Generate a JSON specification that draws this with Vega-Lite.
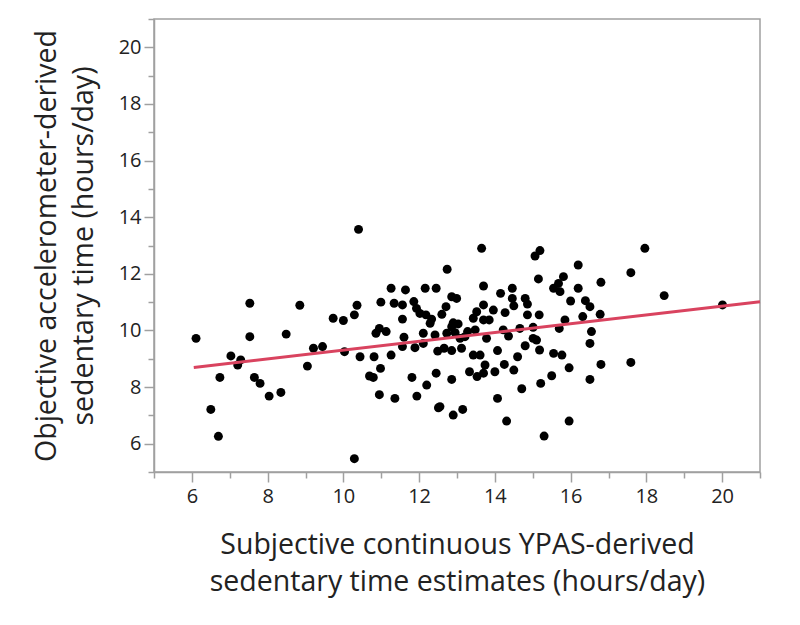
{
  "$schema": "https://vega.github.io/schema/vega-lite/v6.json",
  "autosize": {"type": "none"},
  "width": 606,
  "height": 453,
  "padding": {"left": 154, "top": 19, "right": 40, "bottom": 153},
  "config": {"view": {"stroke": "#a0a0a0", "strokeWidth": 1.5}, "font": "Open Sans"},
  "resolve": {"axis": {"x": "independent", "y": "independent"}},
  "datasets": {
    "pts": [
      {"x": 6.11, "y": 9.72}, {"x": 6.50, "y": 7.21}, {"x": 6.70, "y": 6.26}, {"x": 6.74, "y": 8.34},
      {"x": 7.03, "y": 9.10}, {"x": 7.21, "y": 8.78}, {"x": 7.29, "y": 8.96}, {"x": 7.53, "y": 10.96},
      {"x": 7.53, "y": 9.78}, {"x": 7.65, "y": 8.34}, {"x": 7.80, "y": 8.13}, {"x": 8.04, "y": 7.68},
      {"x": 8.35, "y": 7.81}, {"x": 8.49, "y": 9.87}, {"x": 8.85, "y": 10.89}, {"x": 9.05, "y": 8.74},
      {"x": 9.21, "y": 9.37}, {"x": 9.45, "y": 9.43}, {"x": 9.73, "y": 10.43}, {"x": 10.00, "y": 10.35},
      {"x": 10.03, "y": 9.25}, {"x": 10.29, "y": 10.55}, {"x": 10.36, "y": 10.89}, {"x": 10.40, "y": 13.57},
      {"x": 10.29, "y": 5.47}, {"x": 10.44, "y": 9.07}, {"x": 10.69, "y": 8.39}, {"x": 10.79, "y": 8.34},
      {"x": 10.81, "y": 9.07}, {"x": 10.98, "y": 8.66}, {"x": 10.95, "y": 7.73}, {"x": 11.36, "y": 7.60},
      {"x": 11.26, "y": 9.13}, {"x": 10.86, "y": 9.90}, {"x": 10.95, "y": 10.07}, {"x": 11.13, "y": 9.96},
      {"x": 10.99, "y": 11.00}, {"x": 11.26, "y": 11.49}, {"x": 11.64, "y": 11.43}, {"x": 11.34, "y": 10.96},
      {"x": 11.56, "y": 10.90}, {"x": 11.56, "y": 10.40}, {"x": 11.60, "y": 9.76}, {"x": 11.56, "y": 9.43},
      {"x": 11.81, "y": 8.34}, {"x": 11.94, "y": 7.68}, {"x": 11.86, "y": 11.02}, {"x": 11.93, "y": 10.78},
      {"x": 12.02, "y": 10.60}, {"x": 12.16, "y": 11.49}, {"x": 12.45, "y": 11.49}, {"x": 12.18, "y": 10.55},
      {"x": 12.33, "y": 10.40}, {"x": 12.29, "y": 10.25}, {"x": 12.71, "y": 10.84}, {"x": 12.60, "y": 10.57},
      {"x": 12.86, "y": 11.19}, {"x": 12.99, "y": 11.13}, {"x": 12.90, "y": 10.27}, {"x": 13.03, "y": 10.23},
      {"x": 12.11, "y": 9.90}, {"x": 12.42, "y": 9.84}, {"x": 11.89, "y": 9.39}, {"x": 12.11, "y": 9.54},
      {"x": 12.49, "y": 9.27}, {"x": 12.66, "y": 9.37}, {"x": 12.86, "y": 9.29}, {"x": 12.73, "y": 9.90},
      {"x": 13.08, "y": 9.72}, {"x": 13.12, "y": 9.37}, {"x": 13.28, "y": 9.96}, {"x": 12.45, "y": 8.49},
      {"x": 12.20, "y": 8.07}, {"x": 12.86, "y": 8.27}, {"x": 12.51, "y": 7.27}, {"x": 12.90, "y": 7.01},
      {"x": 13.15, "y": 7.21}, {"x": 13.33, "y": 8.54}, {"x": 13.65, "y": 12.90}, {"x": 15.06, "y": 12.63},
      {"x": 15.19, "y": 12.82}, {"x": 17.96, "y": 12.90}, {"x": 12.74, "y": 12.16}, {"x": 16.20, "y": 12.31},
      {"x": 17.59, "y": 12.04}, {"x": 15.15, "y": 11.82}, {"x": 15.81, "y": 11.90}, {"x": 15.68, "y": 11.66},
      {"x": 15.55, "y": 11.49}, {"x": 15.72, "y": 11.37}, {"x": 16.80, "y": 11.70}, {"x": 16.20, "y": 11.49},
      {"x": 13.70, "y": 11.57}, {"x": 14.15, "y": 11.31}, {"x": 14.46, "y": 11.49}, {"x": 14.46, "y": 11.13},
      {"x": 14.80, "y": 11.13}, {"x": 14.86, "y": 10.93}, {"x": 18.47, "y": 11.23}, {"x": 16.00, "y": 11.04},
      {"x": 16.39, "y": 11.05}, {"x": 16.51, "y": 10.84}, {"x": 20.01, "y": 10.90}, {"x": 13.70, "y": 10.90},
      {"x": 13.52, "y": 10.66}, {"x": 13.43, "y": 10.43}, {"x": 13.96, "y": 10.72}, {"x": 13.85, "y": 10.37},
      {"x": 13.70, "y": 10.37}, {"x": 14.27, "y": 10.63}, {"x": 14.86, "y": 10.55}, {"x": 15.17, "y": 10.55},
      {"x": 12.86, "y": 10.13}, {"x": 15.85, "y": 10.37}, {"x": 16.32, "y": 10.49}, {"x": 16.78, "y": 10.57},
      {"x": 13.21, "y": 9.78}, {"x": 13.48, "y": 10.02}, {"x": 14.22, "y": 10.02}, {"x": 14.36, "y": 9.80},
      {"x": 14.66, "y": 10.07}, {"x": 15.01, "y": 10.11}, {"x": 13.78, "y": 9.72}, {"x": 15.01, "y": 9.72},
      {"x": 15.10, "y": 9.66}, {"x": 15.70, "y": 10.07}, {"x": 16.55, "y": 9.96}, {"x": 16.51, "y": 9.54},
      {"x": 13.43, "y": 9.13}, {"x": 13.61, "y": 9.13}, {"x": 14.07, "y": 9.29}, {"x": 14.80, "y": 9.46},
      {"x": 15.18, "y": 9.31}, {"x": 14.60, "y": 9.07}, {"x": 15.55, "y": 9.19}, {"x": 15.77, "y": 9.13},
      {"x": 13.74, "y": 8.78}, {"x": 13.70, "y": 8.49}, {"x": 13.53, "y": 8.37}, {"x": 14.00, "y": 8.54},
      {"x": 14.25, "y": 8.80}, {"x": 14.50, "y": 8.60}, {"x": 15.96, "y": 8.68}, {"x": 16.80, "y": 8.80},
      {"x": 17.59, "y": 8.87}, {"x": 15.50, "y": 8.40}, {"x": 15.21, "y": 8.13}, {"x": 16.51, "y": 8.27},
      {"x": 14.71, "y": 7.94}, {"x": 14.07, "y": 7.60}, {"x": 12.55, "y": 7.31}, {"x": 14.31, "y": 6.80},
      {"x": 15.96, "y": 6.80}, {"x": 15.30, "y": 6.27}, {"x": 14.50, "y": 10.87}, {"x": 12.95, "y": 9.92}
    ],
    "fit": [{"x": 6.05, "y": 8.69}, {"x": 21, "y": 11.01}]
  },
  "layer": [
    {
      "data": {"name": "pts"},
      "mark": {"type": "circle", "color": "#000000", "size": 80, "opacity": 1},
      "encoding": {
        "x": {
          "field": "x", "type": "quantitative",
          "scale": {"domain": [5, 21], "nice": false, "zero": false},
          "axis": {
            "orient": "bottom",
            "values": [6, 8, 10, 12, 14, 16, 18, 20],
            "tickSize": 10,
            "grid": false, "domainColor": "#a0a0a0", "tickColor": "#a0a0a0", "domainWidth": 1.5, "tickWidth": 1.5,
            "labelFontSize": 20, "labelColor": "#222222", "labelPadding": 4,
            "title": ["Subjective continuous YPAS-derived", "sedentary time estimates (hours/day)"],
            "titleFontSize": 28.5, "titleFontWeight": "normal", "titleColor": "#222222", "titlePadding": 24, "titleLineHeight": 37
          }
        },
        "y": {
          "field": "y", "type": "quantitative",
          "scale": {"domain": [5, 21], "nice": false, "zero": false},
          "axis": {
            "orient": "left",
            "values": [6, 8, 10, 12, 14, 16, 18, 20],
            "tickSize": 10,
            "grid": false, "domainColor": "#a0a0a0", "tickColor": "#a0a0a0", "domainWidth": 1.5, "tickWidth": 1.5,
            "labelFontSize": 20, "labelColor": "#222222", "labelPadding": 3,
            "title": ["Objective accelerometer-derived", "sedentary time (hours/day)"],
            "titleFontSize": 28.5, "titleFontWeight": "normal", "titleColor": "#222222", "titlePadding": 20, "titleLineHeight": 37
          }
        }
      }
    },
    {
      "data": {"name": "fit"},
      "mark": {"type": "line", "color": "#d9435f", "strokeWidth": 3},
      "encoding": {
        "x": {
          "field": "x", "type": "quantitative",
          "axis": {"orient": "bottom", "values": [5, 7, 9, 11, 13, 15, 17, 19, 21], "labels": false, "title": null, "domain": false, "grid": false,
                   "tickSize": 6, "tickColor": "#a0a0a0", "tickWidth": 1.5}
        },
        "y": {
          "field": "y", "type": "quantitative",
          "axis": {"orient": "left", "values": [5, 7, 9, 11, 13, 15, 17, 19, 21], "labels": false, "title": null, "domain": false, "grid": false,
                   "tickSize": 6, "tickColor": "#a0a0a0", "tickWidth": 1.5}
        }
      }
    }
  ]
}
